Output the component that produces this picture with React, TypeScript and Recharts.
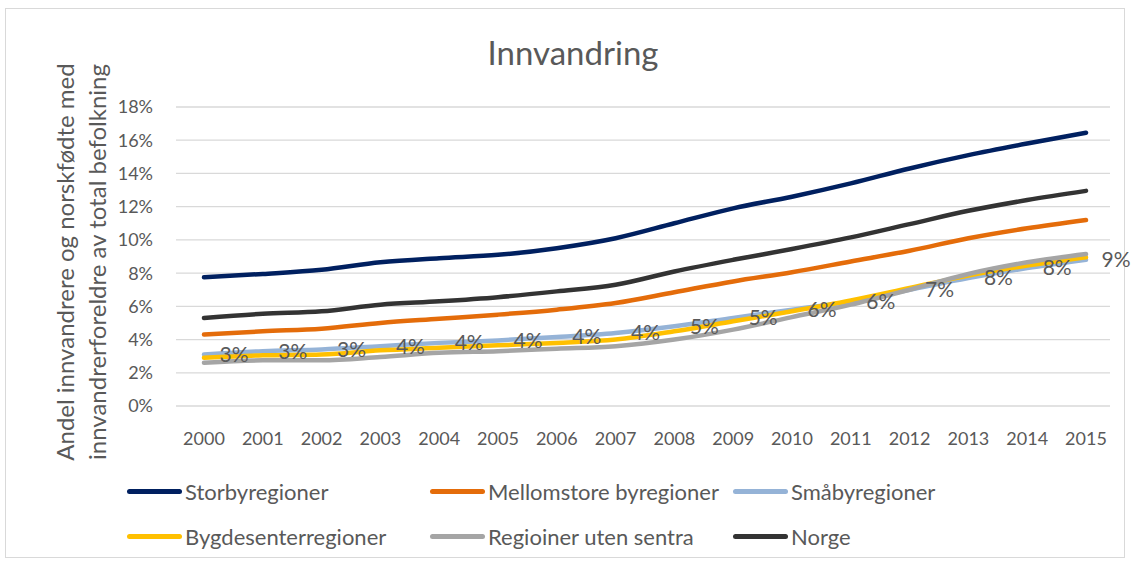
import React from 'react';
import { LineChart, Line, XAxis, YAxis, CartesianGrid, LabelList } from 'recharts';

const years = ['2000', '2001', '2002', '2003', '2004', '2005', '2006', '2007', '2008', '2009', '2010', '2011', '2012', '2013', '2014', '2015'];

const storby = [7.75, 7.95, 8.2, 8.65, 8.9, 9.1, 9.5, 10.1, 11.0, 11.9, 12.6, 13.4, 14.3, 15.1, 15.8, 16.45];
const mellomstore = [4.3, 4.5, 4.65, 5.0, 5.25, 5.5, 5.8, 6.2, 6.85, 7.5, 8.05, 8.7, 9.35, 10.1, 10.7, 11.2];
const smaby = [3.1, 3.3, 3.4, 3.6, 3.8, 3.95, 4.15, 4.4, 4.8, 5.3, 5.8, 6.3, 7.0, 7.7, 8.3, 8.8];
const bygdesenter = [2.9, 3.05, 3.1, 3.35, 3.5, 3.65, 3.8, 4.0, 4.5, 5.1, 5.7, 6.35, 7.1, 7.85, 8.45, 8.95];
const utenSentra = [2.6, 2.75, 2.75, 2.95, 3.2, 3.3, 3.45, 3.6, 4.0, 4.6, 5.35, 6.1, 7.0, 7.95, 8.65, 9.15];
const norge = [5.3, 5.55, 5.7, 6.1, 6.3, 6.55, 6.9, 7.3, 8.1, 8.8, 9.45, 10.15, 10.95, 11.75, 12.4, 12.95];

const yTicks = [0, 2, 4, 6, 8, 10, 12, 14, 16, 18];

const series = [
  { key: 'storby', name: 'Storbyregioner', color: '#002060' },
  { key: 'mellomstore', name: 'Mellomstore byregioner', color: '#E46C0A' },
  { key: 'smaby', name: 'Småbyregioner', color: '#95B3D7' },
  { key: 'bygdesenter', name: 'Bygdesenterregioner', color: '#FFC000' },
  { key: 'utenSentra', name: 'Regioiner uten sentra', color: '#A5A5A5' },
  { key: 'norge', name: 'Norge', color: '#333333' },
];

const data = years.map((year, i) => ({
  year,
  storby: storby[i],
  mellomstore: mellomstore[i],
  smaby: smaby[i],
  bygdesenter: bygdesenter[i],
  utenSentra: utenSentra[i],
  norge: norge[i],
}));

const FONT = 'Lato, "Liberation Sans", sans-serif';
const TEXT = '#595959';

const legendPos = [
  { left: 127, top: 491 },
  { left: 430, top: 491 },
  { left: 733, top: 491 },
  { left: 127, top: 536 },
  { left: 430, top: 536 },
  { left: 733, top: 536 },
];

const PctLabel = (props: any) => {
  const { x, y, value } = props;
  return (
    <text x={x + 30} y={y} dy="0.35em" textAnchor="middle" fill={TEXT} fontSize={21} fontFamily={FONT}>
      {Math.round(value)}%
    </text>
  );
};

const App: React.FC = () => {
  return (
    <div style={{ position: 'fixed', left: 0, top: 0, width: 1131, height: 561, background: '#fff', fontFamily: FONT, overflow: 'hidden' }}>
      <div style={{ position: 'absolute', left: 5, top: 8, width: 1120, height: 550, border: '1px solid #D9D9D9', boxSizing: 'border-box' }} />
      <div style={{ position: 'absolute', left: 573, top: 32, transform: 'translateX(-50%)', whiteSpace: 'nowrap', fontSize: 33, color: TEXT }}>
        Innvandring
      </div>
      <div style={{ position: 'absolute', left: 81, top: 262, width: 0, height: 0 }}>
        <div
          style={{
            position: 'absolute',
            transform: 'translate(-50%, -50%) rotate(-90deg)',
            whiteSpace: 'nowrap',
            textAlign: 'center',
            fontSize: 24,
            lineHeight: '32px',
            color: TEXT,
          }}
        >
          Andel innvandrere og norskfødte med
          <br />
          innvandrerforeldre av total befolkning
        </div>
      </div>
      <LineChart width={1131} height={561} data={data} margin={{ top: 107, right: 21, bottom: 125, left: 0 }}>
        <CartesianGrid vertical={false} stroke="#D9D9D9" strokeWidth={1.3} />
        <XAxis
          dataKey="year"
          axisLine={false}
          tickLine={false}
          padding={{ left: 28, right: 24 }}
          tickMargin={20}
          interval={0}
          tick={{ fill: TEXT, fontSize: 18, fontFamily: FONT }}
        />
        <YAxis
          width={176}
          domain={[0, 18]}
          ticks={yTicks}
          axisLine={false}
          tickLine={false}
          tickMargin={17}
          tickFormatter={(v: number) => `${v}%`}
          tick={{ fill: TEXT, fontSize: 18, fontFamily: FONT }}
        />
        {series.map((s) => (
          <Line
            key={s.key}
            type="monotone"
            dataKey={s.key}
            name={s.name}
            stroke={s.color}
            strokeWidth={4.5}
            strokeLinecap="round"
            dot={false}
            activeDot={false}
            isAnimationActive={false}
          >
            {s.key === 'smaby' && <LabelList dataKey="smaby" content={PctLabel} />}
          </Line>
        ))}
      </LineChart>
      {series.map((s, i) => (
        <div
          key={s.key}
          style={{ position: 'absolute', left: legendPos[i].left, top: legendPos[i].top - 15, height: 30, display: 'flex', alignItems: 'center' }}
        >
          <div style={{ width: 55, height: 5, borderRadius: 3, background: s.color, marginRight: 3 }} />
          <span style={{ fontSize: 22, color: TEXT, whiteSpace: 'nowrap' }}>{s.name}</span>
        </div>
      ))}
    </div>
  );
};

export default App;
